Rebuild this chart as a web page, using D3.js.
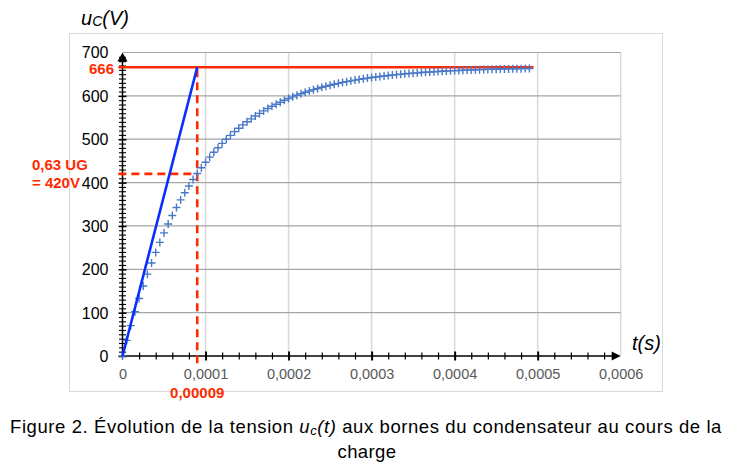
<!DOCTYPE html>
<html>
<head>
<meta charset="utf-8">
<script src="https://cdn.jsdelivr.net/npm/d3@7"></script>
<style>
  html, body { margin: 0; padding: 0; background: #fff; }
  svg { display: block; font-family: "Liberation Sans", Arial, Helvetica, sans-serif; }
</style>
</head>
<body>
<svg id="chart" width="735" height="468"></svg>
<script>
// ---------- data ----------
// time of each measured point (µs)
const timeUs = [0,5,10,15,20,25,30,35,40,45,50,55,60,65,70,75,80,85,90,95,
  100,105,110,115,120,125,130,135,140,145,150,155,160,165,170,175,180,185,190,195,
  200,205,210,215,220,225,230,235,240,245,250,255,260,265,270,275,280,285,290,295,
  300,305,310,315,320,325,330,335,340,345,350,355,360,365,370,375,380,385,390,395,
  400,405,410,415,420,425,430,435,440,445,450,455,460,465,470,475,480,485,490];
// measured capacitor voltage uC (V)
const uC = [0,36.0,70.0,102.2,132.7,161.5,188.8,214.6,239.0,262.0,
  283.9,304.5,324.1,342.5,360.0,376.6,392.2,407.0,421.0,434.2,
  446.8,458.6,469.8,480.4,490.4,499.9,508.9,517.4,525.4,533.0,
  540.2,547.0,553.4,559.5,565.3,570.7,575.9,580.7,585.3,589.7,
  593.8,597.7,601.4,604.9,608.2,611.3,614.3,617.1,619.7,622.2,
  624.6,626.8,628.9,631.0,632.8,634.6,636.3,637.9,639.4,640.9,
  642.2,643.5,644.7,645.9,647.0,648.0,649.0,649.9,650.8,651.6,
  652.4,653.1,653.8,654.5,655.1,655.7,656.2,656.8,657.3,657.7,
  658.2,658.6,659.0,659.4,659.7,660.1,660.4,660.7,661.0,661.3,
  661.5,661.8,662.0,662.2,662.4,662.6,662.8,663.0,663.1];
// tangent at origin: from (0,0) to (tau, U)
const tangentT = [0, 90];
const tangentU = [0, 666];
// asymptote U = 666 V
const asymptoteT = [-5, 495];
const asymptoteU = 666;
// construction lines for tau
const tauUs = 90;
const u063 = 420;
// ticks
const xTicks = [0,100,200,300,400,500,600];
const xTickLabels = ["0","0,0001","0,0002","0,0003","0,0004","0,0005","0,0006"];
const xMinorTicks = [20,40,60,80,120,140,160,180,220,240,260,280,320,340,360,380,420,440,460,480,520,540,560,580];
const yTicks = [0,100,200,300,400,500,600,700];
const yTickLabels = ["0","100","200","300","400","500","600","700"];

// ---------- chart ----------
const svg = d3.select("#chart");
const x = d3.scaleLinear().domain([0, 600]).range([122.5, 620.7]);
const y = d3.scaleLinear().domain([0, 700]).range([356, 52.5]);

// outer frame
svg.append("rect").attr("x", 69.5).attr("y", 33.5).attr("width", 593).attr("height", 358)
  .attr("fill", "#fff").attr("stroke", "#d9d9d9").attr("stroke-width", 1);

// gridlines
svg.append("g").selectAll("line").data(xTicks.slice(1)).join("line")
  .attr("x1", d => x(d)).attr("x2", d => x(d))
  .attr("y1", y(700)).attr("y2", y(0))
  .attr("stroke", "#d9d9d9").attr("stroke-width", 1.5);
svg.append("g").selectAll("line").data(yTicks.slice(1)).join("line")
  .attr("x1", x(0)).attr("x2", x(600))
  .attr("y1", d => y(d)).attr("y2", d => y(d))
  .attr("stroke", "#a6a6a6").attr("stroke-width", 1.2);

// x axis (minor ticks + major ticks crossing the axis)
const xAxisG = svg.append("g").attr("transform", `translate(0,${y(0)})`);
const xMinor = xAxisG.append("g").call(d3.axisBottom(x).tickValues(xMinorTicks).tickFormat("").tickSizeOuter(0));
xMinor.select(".domain").remove();
xMinor.selectAll(".tick line").attr("y1", -3.5).attr("y2", 3.5).attr("stroke", "#000").attr("stroke-width", 1.2);
const xMajor = xAxisG.append("g").call(
  d3.axisBottom(x).tickValues(xTicks).tickFormat((d, i) => xTickLabels[i]).tickSizeOuter(0));
xMajor.select(".domain").attr("d", `M${x(0)},0H${x(600) - 6}`).attr("stroke", "#000").attr("stroke-width", 1.5);
xMajor.selectAll(".tick line").attr("y1", -4.5).attr("y2", 4.5).attr("stroke", "#000").attr("stroke-width", 2)
  .filter(d => d === 0 || d === 600).remove();
xMajor.selectAll(".tick text").attr("y", 0).attr("dy", 0).attr("transform", "translate(0,23)")
  .attr("fill", "#595959").style("font-size", "14.5px").style("font-family", "'Liberation Sans', Arial, sans-serif");
// x arrow
svg.append("path")
  .attr("d", `M${x(600)},${y(0)}L${x(600) - 9},${y(0) - 4.5}L${x(600) - 9},${y(0) + 4.5}Z`)
  .attr("fill", "#000");

// y axis
const yAxisG = svg.append("g").attr("transform", `translate(${x(0)},0)`);
const yMinorVals = d3.range(10, 700, 10).filter(v => v % 100 !== 0);
const yMinor = yAxisG.append("g").call(d3.axisLeft(y).tickValues(yMinorVals).tickFormat("").tickSizeOuter(0));
yMinor.select(".domain").remove();
yMinor.selectAll(".tick line").attr("x1", -3.5).attr("x2", 3.5).attr("stroke", "#000").attr("stroke-width", 1.1);
const yMajor = yAxisG.append("g").call(
  d3.axisLeft(y).tickValues(yTicks).tickFormat((d, i) => yTickLabels[i]).tickSizeOuter(0));
yMajor.select(".domain").attr("d", `M0,${y(0)}V${y(700) + 6}`).attr("stroke", "#000").attr("stroke-width", 1.5);
yMajor.selectAll(".tick line").attr("x1", -4).attr("x2", 4).attr("stroke", "#000").attr("stroke-width", 1.6)
  .filter(d => d === 700).remove();
yMajor.selectAll(".tick text").attr("x", -14).attr("dy", "0.34em")
  .attr("fill", "#000").style("font-size", "16px").style("font-family", "'Liberation Sans', Arial, sans-serif");
// y arrow
svg.append("path")
  .attr("d", `M${x(0)},${y(700)}L${x(0) - 5},${y(700) + 9}L${x(0) + 5},${y(700) + 9}Z`)
  .attr("fill", "#000");

// asymptote 666
svg.append("line")
  .attr("x1", x(asymptoteT[0])).attr("x2", x(asymptoteT[1]))
  .attr("y1", y(asymptoteU)).attr("y2", y(asymptoteU))
  .attr("stroke", "#ff2a00").attr("stroke-width", 2.6);

// dashed construction lines
svg.append("line")
  .attr("x1", x(tauUs)).attr("x2", x(tauUs))
  .attr("y1", y(asymptoteU) + 2).attr("y2", y(0) + 10)
  .attr("stroke", "#ff2a00").attr("stroke-width", 2.6).attr("stroke-dasharray", "8,5");
svg.append("line")
  .attr("x1", x(-5)).attr("x2", x(tauUs))
  .attr("y1", y(u063)).attr("y2", y(u063))
  .attr("stroke", "#ff2a00").attr("stroke-width", 2.6).attr("stroke-dasharray", "8,5");

// measured points (+ markers)
const pts = timeUs.map((t, i) => ({ t, u: uC[i] }));
svg.append("g").selectAll("path").data(pts).join("path")
  .attr("d", d => `M${x(d.t) - 4},${y(d.u)}H${x(d.t) + 4}M${x(d.t)},${y(d.u) - 4}V${y(d.u) + 4}`)
  .attr("stroke", "#4a78c8").attr("stroke-width", 1.4).attr("fill", "none");

// tangent line
svg.append("line")
  .attr("x1", x(tangentT[0])).attr("x2", x(tangentT[1]))
  .attr("y1", y(tangentU[0])).attr("y2", y(tangentU[1]))
  .attr("stroke", "#0a2eff").attr("stroke-width", 2.6);

// red annotations
const red = "#ff2a00";
svg.append("text").attr("x", 114).attr("y", y(666) + 1).attr("dy", "0.36em").attr("text-anchor", "end")
  .attr("fill", red).style("font-weight", "bold").style("font-size", "15px").text("666");
svg.append("text").attr("x", 32).attr("y", 170).attr("fill", red)
  .style("font-weight", "bold").style("font-size", "15px").text("0,63 UG");
svg.append("text").attr("x", 32).attr("y", 188).attr("fill", red)
  .style("font-weight", "bold").style("font-size", "15px").text("= 420V");
svg.append("text").attr("x", x(tauUs)).attr("y", 397.5).attr("text-anchor", "middle").attr("fill", red)
  .style("font-weight", "bold").style("font-size", "15px").text("0,00009");

// axis titles
const yt = svg.append("text").attr("x", 81).attr("y", 25).attr("fill", "#000")
  .style("font-style", "italic").style("font-size", "20px");
yt.append("tspan").text("u");
yt.append("tspan").attr("dy", 1).style("font-size", "14px").text("C");
yt.append("tspan").attr("dy", -1).text("(V)");
svg.append("text").attr("x", 632).attr("y", 350).attr("fill", "#000")
  .style("font-style", "italic").style("font-size", "20px").text("t(s)");

// caption
const cap1 = svg.append("text").attr("x", 366).attr("y", 433).attr("text-anchor", "middle")
  .attr("fill", "#000").style("font-size", "18.5px");
cap1.append("tspan").text("Figure 2. Évolution de la tension ");
cap1.append("tspan").style("font-style", "italic").text("u");
cap1.append("tspan").style("font-style", "italic").style("font-size", "13px").attr("dy", 2).text("c");
cap1.append("tspan").style("font-style", "italic").attr("dy", -2).text("(t)");
cap1.append("tspan").text(" aux bornes du condensateur au cours de la");
// stretch the first caption line to the reference width
const targetW = 712;
const curW = cap1.node().getComputedTextLength();
const nChars = cap1.text().length;
if (curW < targetW) cap1.style("letter-spacing", ((targetW - curW) / nChars) + "px");
svg.append("text").attr("x", 367).attr("y", 458).attr("text-anchor", "middle")
  .attr("fill", "#000").style("font-size", "18.5px").style("letter-spacing", "0.4px").text("charge");
</script>
</body>
</html>
